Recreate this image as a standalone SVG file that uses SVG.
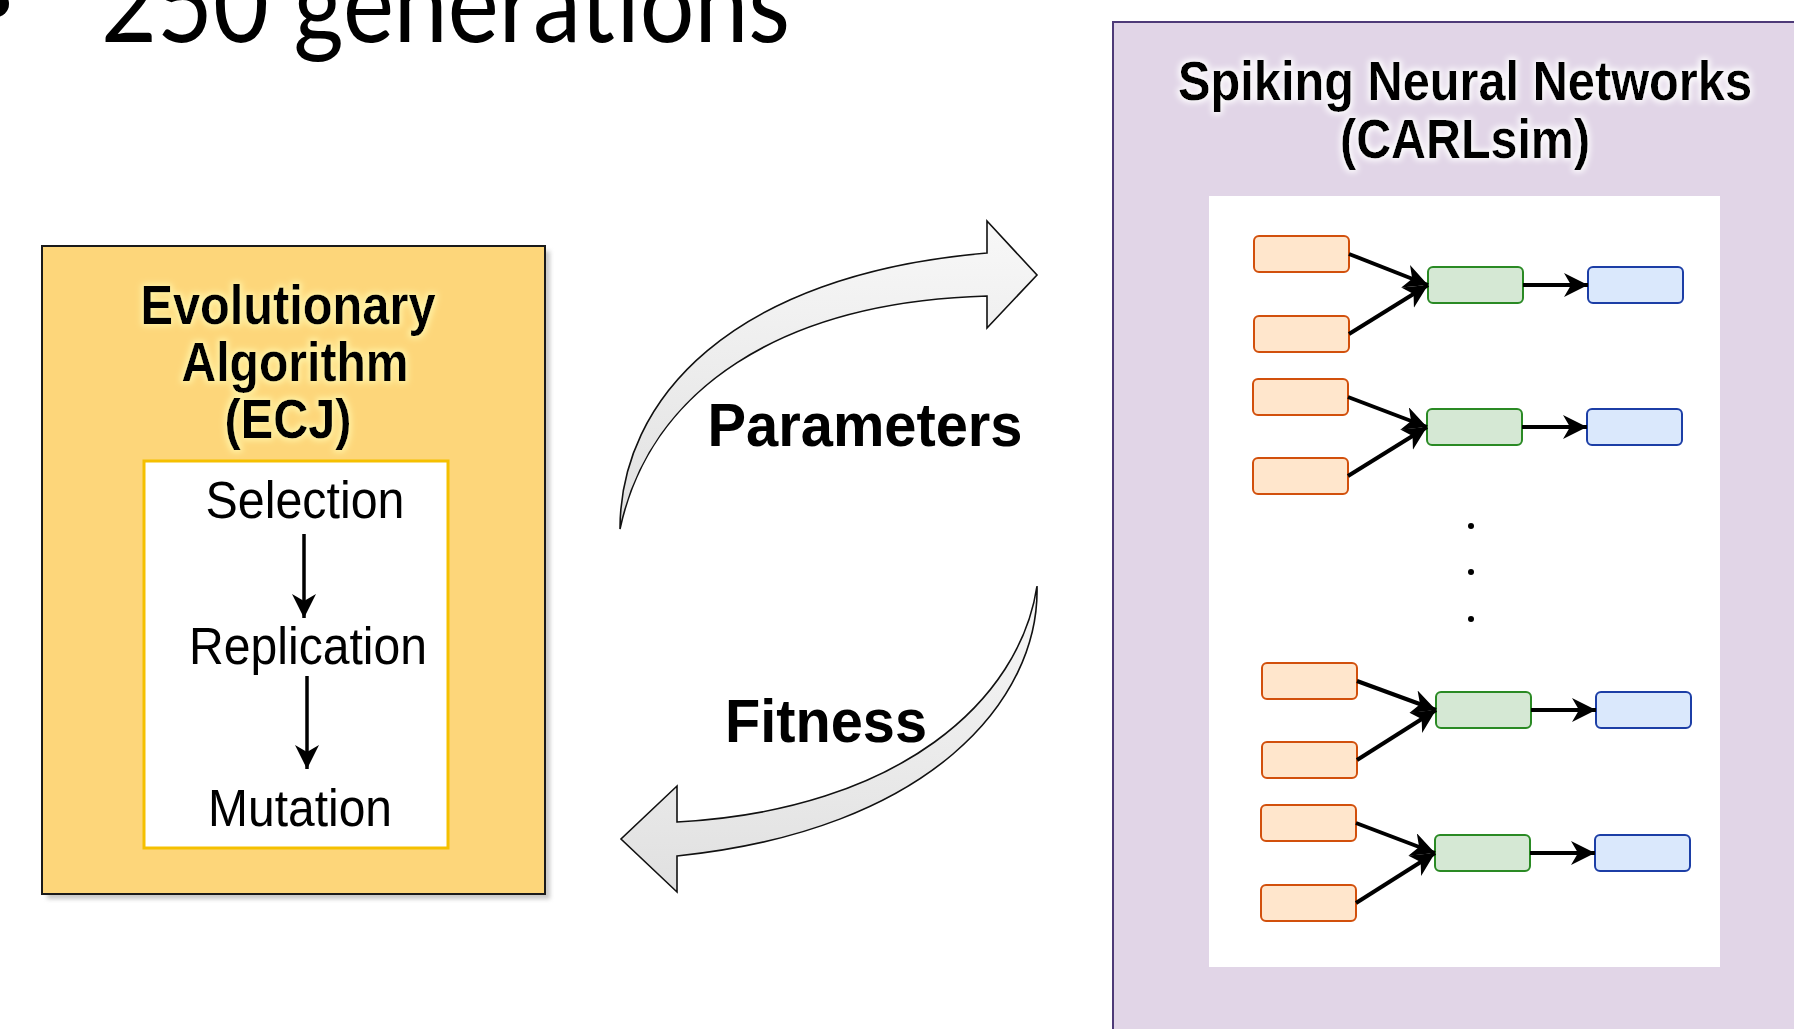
<svg xmlns="http://www.w3.org/2000/svg" width="1794" height="1029" viewBox="0 0 1794 1029">
  <style>
    .bold { font-family: "Liberation Sans", Arial, sans-serif; font-weight: bold; fill: #000; }
    .reg { font-family: "Liberation Sans", Arial, sans-serif; fill: #000; }
    .inp { fill: #ffe6cc; stroke: #d2500c; stroke-width: 2; }
    .hid { fill: #d5e8d4; stroke: #2a8a24; stroke-width: 2; }
    .out { fill: #dae8fc; stroke: #1c3ea6; stroke-width: 2; }
    .syn { stroke: #000; stroke-width: 4; fill: none; marker-end: url(#head); }
    .step { stroke: #000; stroke-width: 3.5; fill: none; marker-end: url(#head); }
    .block { fill: url(#blockFill); stroke: #111; stroke-width: 1.6; stroke-linejoin: miter; }
  </style>
  <defs>
    <marker id="head" markerUnits="userSpaceOnUse" markerWidth="26" markerHeight="26" refX="24" refY="12" orient="auto">
      <path d="M0,0 L24,12 L0,24 L7,12 Z" fill="#000"/>
    </marker>
    <linearGradient id="blockFill" x1="0" y1="0" x2="0" y2="1">
      <stop offset="0" stop-color="#f8f8f8"/>
      <stop offset="1" stop-color="#e0e0e0"/>
    </linearGradient>
    <filter id="glowYellow" x="-10%" y="-30%" width="120%" height="160%">
      <feMorphology in="SourceAlpha" operator="dilate" radius="2" result="d"/>
      <feGaussianBlur in="d" stdDeviation="3" result="b"/>
      <feFlood flood-color="#fff4a8"/>
      <feComposite in2="b" operator="in" result="g"/>
      <feMerge><feMergeNode in="g"/><feMergeNode in="SourceGraphic"/></feMerge>
    </filter>
    <filter id="glowWhite" x="-10%" y="-30%" width="120%" height="160%">
      <feMorphology in="SourceAlpha" operator="dilate" radius="2" result="d"/>
      <feGaussianBlur in="d" stdDeviation="3" result="b"/>
      <feFlood flood-color="#ffffff"/>
      <feComposite in2="b" operator="in" result="g"/>
      <feMerge><feMergeNode in="g"/><feMergeNode in="SourceGraphic"/></feMerge>
    </filter>
    <filter id="soft" x="-5%" y="-5%" width="110%" height="110%">
      <feGaussianBlur stdDeviation="2"/>
    </filter>
  </defs>

  <rect width="1794" height="1029" fill="#ffffff"/>

  <!-- slide bullet line above the figure -->
  <g id="slide-heading">
    <circle cx="-4" cy="4" r="13" fill="#000"/>
    <text x="101" y="42" font-family="Lato, 'Open Sans', sans-serif" font-size="108" textLength="689" lengthAdjust="spacingAndGlyphs" fill="#000">250 generations</text>
  </g>

  <!-- evolutionary algorithm block -->
  <g id="node-ea">
    <rect x="47" y="251" width="503" height="648" fill="#9c9c9c" opacity="0.55" filter="url(#soft)"/>
    <rect x="42" y="246" width="503" height="648" fill="#fdd67a" stroke="#1a1a1a" stroke-width="2"/>
    <g filter="url(#glowYellow)">
      <text class="bold" transform="translate(288,324) scale(1,1.15)" font-size="49" text-anchor="middle" textLength="295" lengthAdjust="spacingAndGlyphs">Evolutionary</text>
      <text class="bold" transform="translate(295,381) scale(1,1.15)" font-size="48" text-anchor="middle" textLength="227" lengthAdjust="spacingAndGlyphs">Algorithm</text>
      <text class="bold" transform="translate(288,438) scale(1,1.15)" font-size="48.5" text-anchor="middle" textLength="127" lengthAdjust="spacingAndGlyphs">(ECJ)</text>
    </g>
    <rect x="144" y="461" width="304" height="387" fill="#ffffff" stroke="#f5c000" stroke-width="3"/>
    <text class="reg" transform="translate(305,518) scale(1,1.07)" font-size="48.5" text-anchor="middle" textLength="199" lengthAdjust="spacingAndGlyphs">Selection</text>
    <text class="reg" transform="translate(308,664) scale(1,1.07)" font-size="48.5" text-anchor="middle" textLength="238" lengthAdjust="spacingAndGlyphs">Replication</text>
    <text class="reg" transform="translate(300,826) scale(1,1.07)" font-size="48.5" text-anchor="middle" textLength="184" lengthAdjust="spacingAndGlyphs">Mutation</text>
  </g>

  <!-- spiking network panel -->
  <g id="node-snn">
    <rect x="1113" y="22" width="700" height="1020" fill="#e1d5e7" stroke="#4e3a78" stroke-width="2"/>
    <g filter="url(#glowWhite)">
      <text class="bold" transform="translate(1465,100) scale(1,1.13)" font-size="48.7" text-anchor="middle" textLength="574" lengthAdjust="spacingAndGlyphs">Spiking Neural Networks</text>
      <text class="bold" transform="translate(1465,158) scale(1,1.13)" font-size="48.5" text-anchor="middle" textLength="250" lengthAdjust="spacingAndGlyphs">(CARLsim)</text>
    </g>
    <rect x="1209" y="196" width="511" height="771" fill="#ffffff"/>
  </g>

  <!-- neuron groups: inputs (orange), hidden (green), outputs (blue) -->
  <g id="net-1">
    <rect id="in-1a" class="inp" x="1254" y="236" width="95" height="36" rx="5"/>
    <rect id="in-1b" class="inp" x="1254" y="316" width="95" height="36" rx="5"/>
    <rect id="hid-1" class="hid" x="1428" y="267" width="95" height="36" rx="5"/>
    <rect id="out-1" class="out" x="1588" y="267" width="95" height="36" rx="5"/>
  </g>
  <g id="net-2">
    <rect id="in-2a" class="inp" x="1253" y="379" width="95" height="36" rx="5"/>
    <rect id="in-2b" class="inp" x="1253" y="458" width="95" height="36" rx="5"/>
    <rect id="hid-2" class="hid" x="1427" y="409" width="95" height="36" rx="5"/>
    <rect id="out-2" class="out" x="1587" y="409" width="95" height="36" rx="5"/>
  </g>
  <g id="ellipsis">
    <circle cx="1471" cy="526" r="3" fill="#000"/>
    <circle cx="1471" cy="572" r="3" fill="#000"/>
    <circle cx="1471" cy="619" r="3" fill="#000"/>
  </g>
  <g id="net-3">
    <rect id="in-3a" class="inp" x="1262" y="663" width="95" height="36" rx="5"/>
    <rect id="in-3b" class="inp" x="1262" y="742" width="95" height="36" rx="5"/>
    <rect id="hid-3" class="hid" x="1436" y="692" width="95" height="36" rx="5"/>
    <rect id="out-3" class="out" x="1596" y="692" width="95" height="36" rx="5"/>
  </g>
  <g id="net-4">
    <rect id="in-4a" class="inp" x="1261" y="805" width="95" height="36" rx="5"/>
    <rect id="in-4b" class="inp" x="1261" y="885" width="95" height="36" rx="5"/>
    <rect id="hid-4" class="hid" x="1435" y="835" width="95" height="36" rx="5"/>
    <rect id="out-4" class="out" x="1595" y="835" width="95" height="36" rx="5"/>
  </g>

  <!-- connectors -->
  <g id="connectors">
    <line class="step" x1="304" y1="534" x2="304" y2="618"/>
    <line class="step" x1="307" y1="676" x2="307" y2="769"/>

    <path id="param-arrow" class="block" d="M620,529 C620,400 730,275 987,253 L987,221 L1037,275 L987,328 L987,296 C780,302 650,390 620,529 Z"/>
    <path id="fitness-arrow" class="block" d="M1037,586 C1040,700 930,830 677,856 L677,892 L621,839 L677,786 L677,822 C900,810 1020,700 1037,586 Z"/>

    <line class="syn" x1="1349" y1="254" x2="1428" y2="285"/>
    <line class="syn" x1="1349" y1="334" x2="1428" y2="285"/>
    <line class="syn" x1="1523" y1="285" x2="1588" y2="285"/>

    <line class="syn" x1="1348" y1="397" x2="1427" y2="427"/>
    <line class="syn" x1="1348" y1="476" x2="1427" y2="427"/>
    <line class="syn" x1="1522" y1="427" x2="1587" y2="427"/>

    <line class="syn" x1="1357" y1="681" x2="1436" y2="710"/>
    <line class="syn" x1="1357" y1="760" x2="1436" y2="710"/>
    <line class="syn" x1="1531" y1="710" x2="1596" y2="710"/>

    <line class="syn" x1="1356" y1="823" x2="1435" y2="853"/>
    <line class="syn" x1="1356" y1="903" x2="1435" y2="853"/>
    <line class="syn" x1="1530" y1="853" x2="1595" y2="853"/>
  </g>

  <!-- connector labels -->
  <g id="labels">
    <text class="bold" transform="translate(865,446) scale(1,1.07)" font-size="57.5" text-anchor="middle" textLength="315" lengthAdjust="spacingAndGlyphs">Parameters</text>
    <text class="bold" transform="translate(826,742) scale(1,1.07)" font-size="57.5" text-anchor="middle" textLength="202" lengthAdjust="spacingAndGlyphs">Fitness</text>
  </g>
</svg>
